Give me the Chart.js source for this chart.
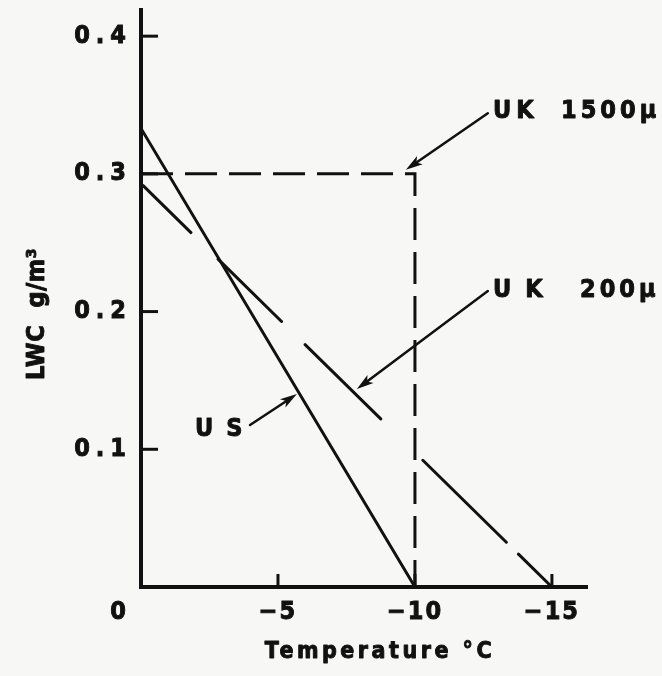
<!DOCTYPE html>
<html><head><meta charset="utf-8">
<script src="https://cdn.jsdelivr.net/npm/chart.js@4.4.1/dist/chart.umd.min.js"></script>
<style>html,body{margin:0;padding:0;background:#f7f7f5;}canvas{display:block;}</style>
</head><body>
<canvas id="c" width="662" height="676"></canvas>
<script>
// ---- data ----
const usTemp = [0, -10];
const usLwc = [0.333, 0];
const uk200Temp = [0, -15];
const uk200Lwc = [0.293, 0];
const uk1500Temp = [0, -10, -10];
const uk1500Lwc = [0.3, 0.3, 0];
const xTickValues = [0, -5, -10, -15];
const yTickValues = [0.1, 0.2, 0.3, 0.4];
const xAxisTitle = 'Temperature °C';
const yAxisTitle = 'LWC g/m³';
const seriesNames = ['US', 'UK 200μ', 'UK 1500μ'];

// ---- styling ----
const FONT = "'Liberation Sans Narrow','DejaVu Sans Condensed','Liberation Sans',sans-serif";
const INK = '#111111';
const BG = '#f7f7f5';
const pts = (xs, ys) => xs.map((x, i) => ({x, y: ys[i]}));

// annotation callouts (label parts + arrow), anchored in data coordinates
const notes = [
  {anchor: [-12.85, 0.345], parts: [{t: 'UK', dx: 0, ls: 5}, {t: '1500μ', dx: 68, ls: 4}], from: [-12.66, 0.344], to: [-9.67, 0.303]},
  {anchor: [-12.85, 0.2156], parts: [{t: 'UK', dx: 0, ls: 14}, {t: '200μ', dx: 87, ls: 4}], from: [-12.66, 0.2149], to: [-7.88, 0.1437]},
  {anchor: [-1.97, 0.1147], parts: [{t: 'US', dx: 0, ls: 13}], from: [-3.98, 0.1176], to: [-5.69, 0.1401]}
];

function arrow(ctx, x1, y1, x2, y2) {
  const a = Math.atan2(y2 - y1, x2 - x1), L = 17, W = 5;
  ctx.beginPath(); ctx.moveTo(x1, y1);
  ctx.lineTo(x2 - Math.cos(a) * L * 0.6, y2 - Math.sin(a) * L * 0.6); ctx.stroke();
  ctx.beginPath();
  ctx.moveTo(x2, y2);
  ctx.lineTo(x2 - Math.cos(a) * L - Math.sin(a) * W, y2 - Math.sin(a) * L + Math.cos(a) * W);
  ctx.lineTo(x2 - Math.cos(a) * L * 0.75, y2 - Math.sin(a) * L * 0.75);
  ctx.lineTo(x2 - Math.cos(a) * L + Math.sin(a) * W, y2 - Math.sin(a) * L - Math.cos(a) * W);
  ctx.closePath(); ctx.fill();
}

function heavyText(c, t, x, y) {
  c.fillText(t, x, y);
  c.lineWidth = 0.9; c.lineJoin = 'round'; c.strokeText(t, x, y);
}

// per-axis letter spacing for the tick labels drawn by the library
function spaceLabels(scale, ls) {
  if (scale._spaced) return;
  const orig = scale.drawLabels.bind(scale);
  scale.drawLabels = function (area) {
    const c = this.ctx, prev = c.letterSpacing;
    c.letterSpacing = ls; orig(area); c.letterSpacing = prev;
  };
  scale._spaced = true;
}

const decor = {
  id: 'decor',
  afterLayout(chart) {
    spaceLabels(chart.scales.x, '2px');
    spaceLabels(chart.scales.y, '6px');
  },
  beforeDraw(chart) {
    const c = chart.ctx;
    c.save(); c.fillStyle = BG; c.fillRect(0, 0, chart.width, chart.height); c.restore();
  },
  afterDraw(chart) {
    const c = chart.ctx, xs = chart.scales.x, ys = chart.scales.y;
    const x0 = xs.getPixelForValue(0), yb = ys.getPixelForValue(0);
    c.save();
    c.strokeStyle = INK; c.fillStyle = INK; c.lineCap = 'butt';
    // inward tick marks
    c.lineWidth = 3;
    yTickValues.forEach(v => { const p = ys.getPixelForValue(v); c.beginPath(); c.moveTo(x0, p); c.lineTo(x0 + 17, p); c.stroke(); });
    xTickValues.filter(v => v !== 0).forEach(v => { const p = xs.getPixelForValue(v); c.beginPath(); c.moveTo(p, yb); c.lineTo(p, yb - 13); c.stroke(); });
    // shared origin label
    c.letterSpacing = '0px';
    c.font = 'bold 25px ' + FONT; c.textAlign = 'center'; c.textBaseline = 'middle';
    heavyText(c, '0', x0 - 23, yb + 25);
    // axis titles
    c.letterSpacing = '3.5px';
    c.font = 'bold 23px ' + FONT; c.textAlign = 'center'; c.textBaseline = 'alphabetic';
    heavyText(c, xAxisTitle, 380, 658);
    c.save();
    c.letterSpacing = '0.5px';
    c.wordSpacing = '9px';
    c.font = 'bold 25px ' + FONT;
    c.translate(44, 314); c.rotate(-Math.PI / 2);
    heavyText(c, yAxisTitle, 0, 0);
    c.restore();
    // callouts
    c.font = 'bold 25px ' + FONT; c.textAlign = 'left'; c.textBaseline = 'middle';
    notes.forEach(n => {
      const ax = xs.getPixelForValue(n.anchor[0]), ay = ys.getPixelForValue(n.anchor[1]);
      n.parts.forEach(p => { c.letterSpacing = p.ls + 'px'; heavyText(c, p.t, ax + p.dx, ay); });
      c.lineWidth = 2.5; c.lineCap = 'round';
      arrow(c, xs.getPixelForValue(n.from[0]), ys.getPixelForValue(n.from[1]), xs.getPixelForValue(n.to[0]), ys.getPixelForValue(n.to[1]));
    });
    c.restore();
  }
};

const lineStyle = {borderColor: INK, borderWidth: 3, pointRadius: 0, fill: false, tension: 0, borderCapStyle: 'round'};
const noPad = s => { s.paddingTop = 0; s.paddingBottom = 0; s.paddingLeft = 0; s.paddingRight = 0; };
const tickFont = {family: FONT, size: 25, weight: 'bold'};

new Chart(document.getElementById('c'), {
  type: 'line',
  data: {
    datasets: [
      Object.assign({label: seriesNames[0], data: pts(usTemp, usLwc)}, lineStyle),
      Object.assign({label: seriesNames[1], data: pts(uk200Temp, uk200Lwc), borderDash: [67, 38, 89, 33, 106, 59, 117, 17, 53, 40], borderDashOffset: -3}, lineStyle),
      Object.assign({label: seriesNames[2], data: pts(uk1500Temp, uk1500Lwc), borderDash: [32, 12]}, lineStyle, {borderCapStyle: 'butt'})
    ]
  },
  options: {
    responsive: false, animation: false,
    layout: {autoPadding: false, padding: {top: 10, right: 75, bottom: 0, left: 0}},
    plugins: {legend: {display: false}, tooltip: {enabled: false}},
    scales: {
      x: {
        type: 'linear', reverse: true, min: -16.28, max: 0,
        afterBuildTicks: s => { s.ticks = xTickValues.map(v => ({value: v})); },
        afterFit: s => { s.height = 89; noPad(s); },
        grid: {display: false, drawTicks: false},
        border: {display: true, color: INK, width: 4},
        ticks: {autoSkip: false, maxRotation: 0, color: INK, padding: 10, font: tickFont,
          textStrokeColor: INK, textStrokeWidth: 0.9,
          callback: v => v === 0 ? '' : String(v).replace('-', '−')}
      },
      y: {
        min: 0, max: 0.419,
        afterBuildTicks: s => { s.ticks = yTickValues.map(v => ({value: v})); },
        afterFit: s => { s.width = 141; noPad(s); },
        grid: {display: false, drawTicks: false},
        border: {display: true, color: INK, width: 4},
        ticks: {color: INK, padding: 9, font: tickFont,
          textStrokeColor: INK, textStrokeWidth: 0.9,
          callback: v => Number(v).toFixed(1)}
      }
    }
  },
  plugins: [decor]
});
</script>
</body></html>
